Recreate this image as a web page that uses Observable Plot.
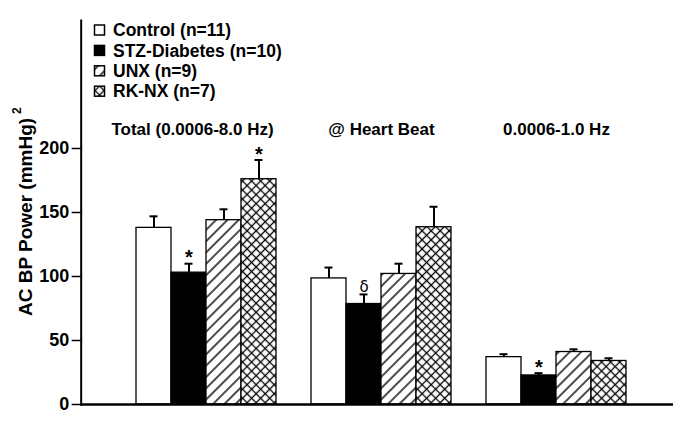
<!DOCTYPE html>
<html><head><meta charset="utf-8">
<script src="https://cdn.jsdelivr.net/npm/d3@7"></script>
<script src="https://cdn.jsdelivr.net/npm/@observablehq/plot@0.6"></script>
<style>body{margin:0;background:#fff}</style>
</head><body><div id="chart"></div>
<script>
const groups = ["Total (0.0006-8.0 Hz)", "@ Heart Beat", "0.0006-1.0 Hz"];
const series = ["Control (n=11)", "STZ-Diabetes (n=10)", "UNX (n=9)", "RK-NX (n=7)"];
const totalMean = [138, 103, 144, 176];
const totalSem = [9, 7, 8.5, 15];
const heartMean = [98.5, 78.5, 102, 138.5];
const heartSem = [8.5, 7.5, 8, 16];
const lowMean = [37, 22.7, 41, 34];
const lowSem = [2.3, 1.8, 2.1, 2.1];
const totalSig = ["", "*", "", "*"];
const heartSig = ["", "δ", "", ""];
const lowSig = ["", "*", "", ""];
const yTicks = [0, 50, 100, 150, 200];
const yLabel = "AC BP Power (mmHg)";
const yLabelSup = "2";

const means = [totalMean, heartMean, lowMean];
const sems = [totalSem, heartSem, lowSem];
const sigs = [totalSig, heartSig, lowSig];
const data = groups.flatMap((g, gi) => series.map((s, si) => ({
  group: g, series: s, mean: means[gi][si], sem: sems[gi][si],
  top: means[gi][si] + sems[gi][si], sig: sigs[gi][si]
})));

const W = 691, H = 427, mL = 79, mR = 19, mT = 20, mB = 23;
const fxOpts = {paddingInner: 0.2, paddingOuter: 0.286, align: 0.55};
// offsets of the first/last facet from the plot edges (axis lines sit on the full frame)
const fxBand = d3.scaleBand().domain(groups).range([mL, W - mR])
  .paddingInner(fxOpts.paddingInner).paddingOuter(fxOpts.paddingOuter).align(fxOpts.align);
const shiftL = fxBand(groups[0]) - mL;
const shiftR = (W - mR) - (fxBand(groups[groups.length - 1]) + fxBand.bandwidth());

const font = "'Liberation Sans', Arial, Helvetica, sans-serif";
const chart = Plot.plot({
  width: W, height: H,
  marginTop: mT, marginBottom: mB, marginLeft: mL, marginRight: mR,
  style: {fontFamily: font, fontSize: "17px", fontWeight: "bold", color: "black", background: "white"},
  fx: {domain: groups, ...fxOpts, axis: null},
  x: {domain: series, padding: 0, axis: null},
  y: {domain: [0, 300], axis: null},
  color: {domain: series, range: ["white", "black", "url(#hatchDiag)", "url(#hatchCross)"]},
  marks: [
    Plot.barY(data, {fx: "group", x: "series", y: "mean", fill: "series", stroke: "black", strokeWidth: 1.3}),
    Plot.ruleX(data, {fx: "group", x: "series", y1: "mean", y2: "top", strokeWidth: 2}),
    Plot.tickY(data, {fx: "group", x: "series", y: "top", strokeWidth: 2, insetLeft: 13.5, insetRight: 13.5}),
    Plot.text(data.filter(d => d.sig === "*"), {fx: "group", x: "series", y: "top", text: "sig", lineAnchor: "bottom", dy: 0.5, fontSize: 20}),
    Plot.text(data.filter(d => d.sig === "δ"), {fx: "group", x: "series", y: "top", text: "sig", lineAnchor: "bottom", dy: -2.5, fontSize: 15, fontWeight: "normal", fontFamily: "'DejaVu Sans', sans-serif"}),
    Plot.text(groups.slice(0, 1), {fx: d => d, text: d => d, frameAnchor: "top", lineAnchor: "top", dy: 102, dx: -14}),
    Plot.text(groups.slice(1), {fx: d => d, text: d => d, frameAnchor: "top", lineAnchor: "top", dy: 102}),
    Plot.axisY({ticks: yTicks, tickSize: 9, tickPadding: 3, label: null, strokeWidth: 1.5, fontSize: 18, dx: -shiftL}),
    Plot.frame({facet: "super", anchor: "left", strokeWidth: 2, insetLeft: -shiftL}),
    Plot.frame({facet: "super", anchor: "bottom", strokeWidth: 2.5, insetLeft: -shiftL, insetRight: -shiftR})
  ]
});
document.getElementById("chart").appendChild(chart);

const svg = d3.select(chart);
const defs = svg.insert("defs", ":first-child");
const p1 = defs.append("pattern").attr("id", "hatchDiag").attr("patternUnits", "userSpaceOnUse")
  .attr("width", 8).attr("height", 8).attr("patternTransform", "rotate(45)");
p1.append("rect").attr("width", 8).attr("height", 8).attr("fill", "white");
p1.append("line").attr("x1", 4).attr("y1", 0).attr("x2", 4).attr("y2", 8).attr("stroke", "black").attr("stroke-width", 1.4);
const p2 = defs.append("pattern").attr("id", "hatchCross").attr("patternUnits", "userSpaceOnUse")
  .attr("width", 6.4).attr("height", 6.4).attr("patternTransform", "rotate(45)");
p2.append("rect").attr("width", 6.4).attr("height", 6.4).attr("fill", "white");
p2.append("line").attr("x1", 3.2).attr("y1", 0).attr("x2", 3.2).attr("y2", 6.4).attr("stroke", "black").attr("stroke-width", 1.3);
p2.append("line").attr("x1", 0).attr("y1", 3.2).attr("x2", 6.4).attr("y2", 3.2).attr("stroke", "black").attr("stroke-width", 1.3);

const color = chart.scale("color");
const leg = svg.append("g").attr("font-family", font).attr("font-size", 17.5).attr("font-weight", "bold")
  .attr("text-anchor", "start");
series.forEach((s, i) => {
  const y = 30 + i * 20.4;
  leg.append("rect").attr("x", 94.5).attr("y", y - 5).attr("width", 10).attr("height", 10)
    .attr("fill", color.apply(s)).attr("stroke", "black").attr("stroke-width", 1.5);
  leg.append("text").attr("x", 113).attr("y", y).attr("dy", "0.35em").text(s);
});

const yl = svg.append("text").attr("transform", "translate(32,316) rotate(-90)").attr("text-anchor", "start")
  .attr("font-family", font).attr("font-size", 19).attr("font-weight", "bold").text(yLabel);
yl.append("tspan").attr("dx", 4).attr("dy", -11).attr("font-size", 12).text(yLabelSup);
</script>
</body></html>
